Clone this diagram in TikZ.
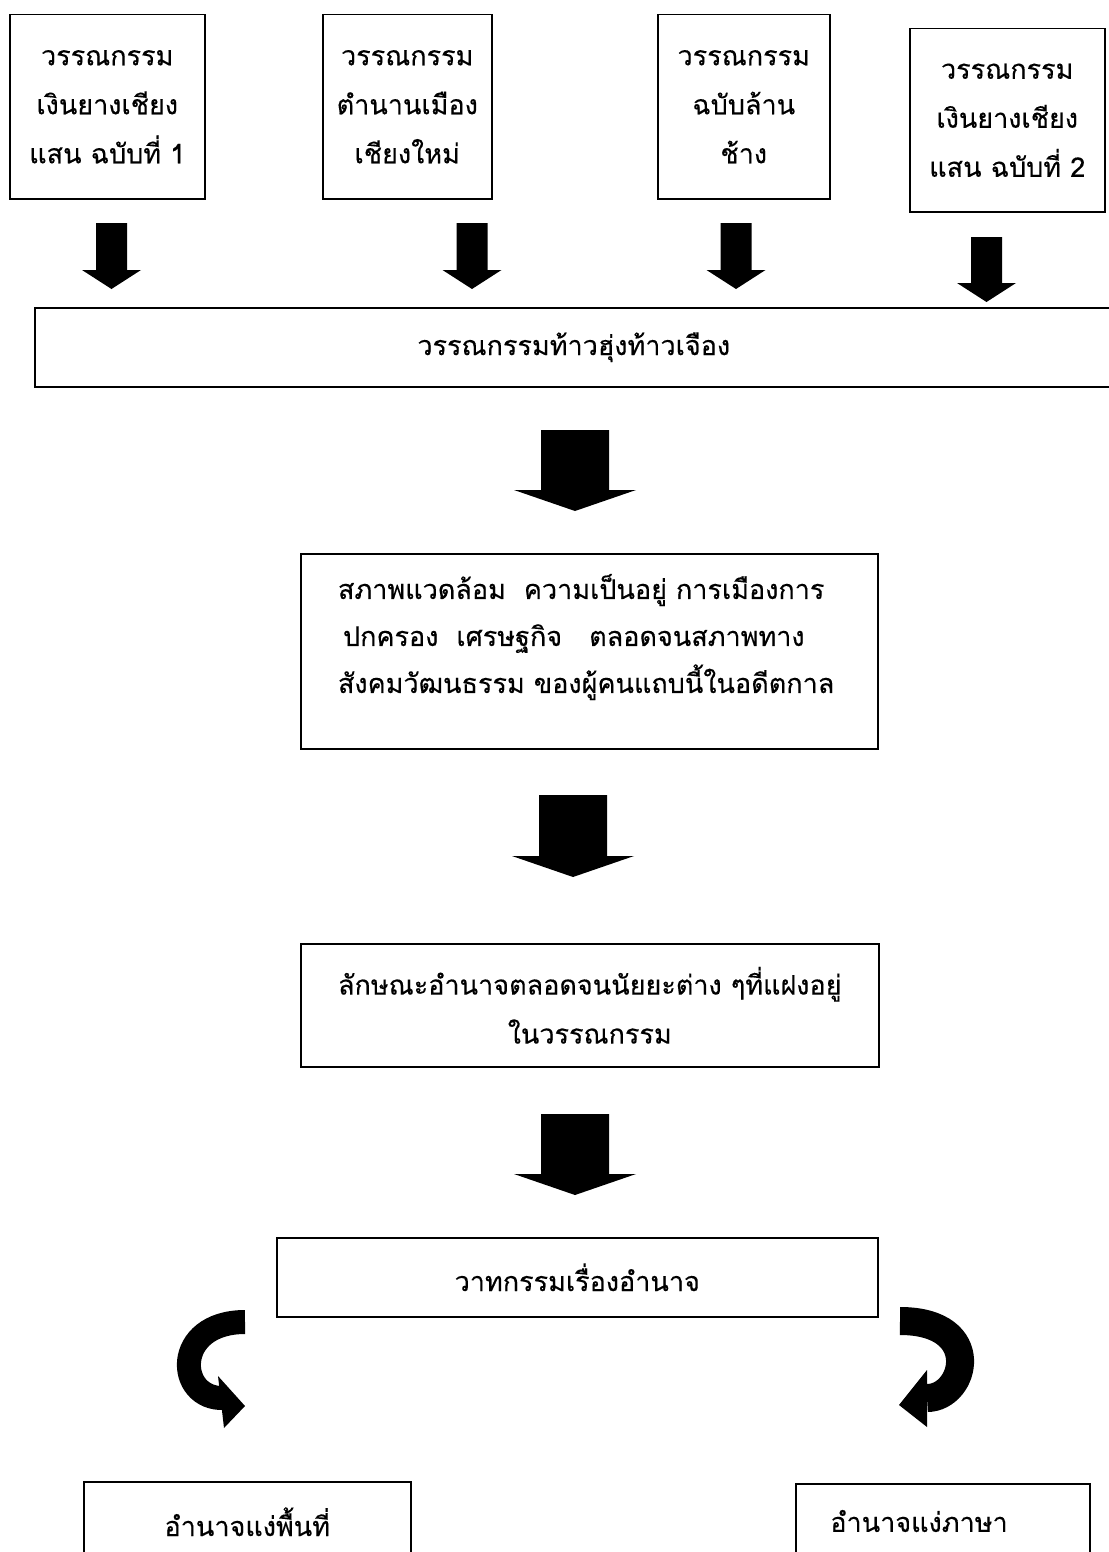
\documentclass[tikz,border=0pt]{standalone}
\usepackage{fontspec}
\newfontfamily\thaifont[Script=Thai, FakeBold=0.3]{Loma}
\newcommand{\thaitext}{\thaifont\fontsize{27}{49}\selectfont}
\usetikzlibrary{calc}

\tikzset{
  blk/.style n args={3}{fill=black, draw=none, to path={
    ($(\tikztostart)+(-#1,0)$) -- ($(\tikztostart)+(#1,0)$)
    -- ($(\tikztostart |- \tikztotarget)+(#1,-#3)$) -- ($(\tikztostart |- \tikztotarget)+(#2,-#3)$)
    -- (\tikztotarget)
    -- ($(\tikztostart |- \tikztotarget)+(-#2,-#3)$) -- ($(\tikztostart |- \tikztotarget)+(-#1,-#3)$) -- cycle}},
  small arrow/.style={blk={15.5}{29.5}{19}},
  big arrow/.style={blk={34}{61}{21}},
  bend band/.style={draw=black, line cap=butt},
}

\begin{document}
\begin{tikzpicture}[x=1pt, y=-1pt, box/.style={draw, line width=1.5pt, anchor=north west, align=center, font=\thaitext, inner sep=0pt}, txt/.style={font=\thaitext, inner sep=0pt}]
\useasboundingbox (0,0) rectangle (1108,1552);

% top row of sources
\node[box, minimum width=195, minimum height=184] (b1) at (9,14) {วรรณกรรม\\เงินยางเชียง\\แสน ฉบับที่ 1};
\node[box, minimum width=169, minimum height=184] (b2) at (322,14) {วรรณกรรม\\ตำนานเมือง\\เชียงใหม่};
\node[box, minimum width=172, minimum height=184] (b3) at (657,14) {วรรณกรรม\\ฉบับล้าน\\ช้าง};
\node[box, minimum width=195, minimum height=183] (b4) at (909,28) {วรรณกรรม\\เงินยางเชียง\\แสน ฉบับที่ 2};

\node[box, minimum width=1078, minimum height=79] (lit) at (34,307) {วรรณกรรมท้าวฮุ่งท้าวเจือง};
\node[box, minimum width=577, minimum height=195] (env) at (300,553) {};
\node[txt, text width=524pt, align=left, font=\thaifont\fontsize{27}{47}\selectfont] (envtxt) at (600,637) {สภาพแวดล้อม\ \ ความเป็นอยู่ การเมืองการ\\\hspace*{5pt}ปกครอง\ \ เศรษฐกิจ\ \ \ ตลอดจนสภาพทาง\\สังคมวัฒนธรรม ของผู้คนแถบนี้ในอดีตกาล};
\node[box, minimum width=578, minimum height=123] (pow) at (300,943) {ลักษณะอำนาจตลอดจนนัยยะต่าง ๆที่แฝงอยู่\\ในวรรณกรรม};
\node[box, minimum width=601, minimum height=79] (disc) at (276,1237) {วาทกรรมเรื่องอำนาจ};
\node[box, minimum width=327, minimum height=80] (space) at (83,1481) {อำนาจแง่พื้นที่};
\node[box, minimum width=294, minimum height=80] (lang) at (795,1483) {};
\node[txt] (langtxt) at (919,1521) {อำนาจแง่ภาษา};

% block arrows
\coordinate (t1) at (111.5,223); \coordinate (h1) at (111.5,289);
\coordinate (t2) at (472,223);   \coordinate (h2) at (472,289);
\coordinate (t3) at (736,223);   \coordinate (h3) at (736,289);
\coordinate (t4) at (986.5,237); \coordinate (h4) at (986.5,302);
\coordinate (t5) at (575,430);   \coordinate (h5) at (575,511);
\coordinate (t6) at (573,795);   \coordinate (h6) at (573,877);
\coordinate (t7) at (575,1114);  \coordinate (h7) at (575,1195);
\foreach \i in {1,...,4}
  \fill[small arrow] (t\i) to (h\i);
\foreach \i in {5,6,7}
  \fill[big arrow] (t\i) to (h\i);

% curved arrows
\draw[bend band, line width=24pt] (245,1322) .. controls (172,1322) and (176,1400) .. (224,1398);
\fill (218,1376) -- (245,1406) -- (224,1428) -- cycle;
\draw[bend band, line width=28pt] (900,1321) .. controls (985,1321) and (966,1398) .. (927,1398);
\fill (927,1370) -- (899,1405) -- (927,1427) -- cycle;
\end{tikzpicture}
\end{document}
